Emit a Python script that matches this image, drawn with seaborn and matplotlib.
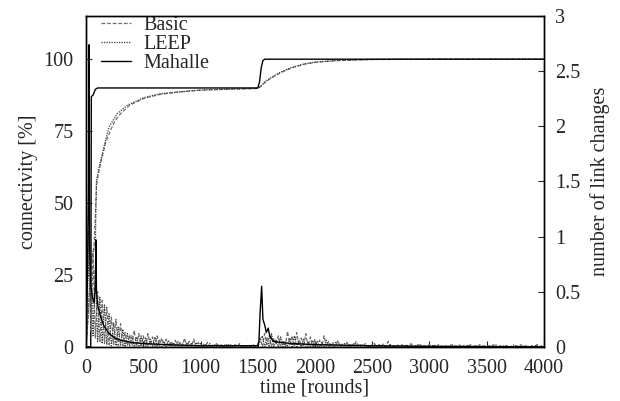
import numpy as np
import matplotlib
matplotlib.use("Agg")
import matplotlib.pyplot as plt
import seaborn as sns

# connectivity [%] (left axis)
basic_conn_rounds = [0, 20, 40, 55, 70, 90, 110, 140, 170, 210, 250, 300, 380, 500, 650,
                     800, 1000, 1200, 1500, 1530, 1560, 1600, 1650, 1700, 1800, 1900,
                     2000, 2200, 2500, 3000, 4000]
basic_conn = [0, 12, 27, 31, 36, 56, 61, 66, 71, 75, 78.5, 81, 84, 86.3, 87.8,
              88.6, 89.2, 89.5, 89.8, 90.6, 91.8, 93, 94.2, 95.3, 97, 98.2,
              98.9, 99.5, 99.9, 100, 100]
leep_conn_rounds = [0, 20, 40, 60, 80, 90, 110, 140, 170, 200, 270, 360, 500, 650,
                    1000, 1500, 1530, 1560, 1600, 1650, 1700, 1800, 1900, 2000,
                    2200, 2500, 3000, 4000]
leep_conn = [0, 14, 30, 33, 35, 58, 62, 67, 72, 76.5, 81, 84, 86.6, 88,
             89.3, 89.9, 90.8, 92, 93.2, 94.4, 95.5, 97.2, 98.3, 99,
             99.6, 99.9, 100, 100]
mahalle_conn_rounds = [0, 40, 45, 60, 80, 100, 1500, 1515, 1530, 1545, 1560, 4000]
mahalle_conn = [0, 0, 87, 87.5, 89.5, 90, 90, 92, 97, 99.5, 100, 100]

# number of link changes (right axis), sampled every 20 rounds
link_rounds = np.arange(0, 4001, 20)
basic_link = [
    0, 1.05, 0.15, 0.85, 0.08, 0.5, 0.05, 0.42, 0.03, 0.36, 0.02, 0.27, 0.02, 0.25, 0.01, 0.21, 0.01, 0.13, 0.01, 0.11, 0.01, 0.15, 0.0, 0.12, 0.01,
    0.10, 0.0, 0.12, 0.01, 0.09, 0.0, 0.10, 0.0, 0.08, 0.01, 0.07, 0.0, 0.05, 0.0, 0.06, 0.0, 0.04, 0.0, 0.08, 0.0, 0.05, 0.0, 0.07, 0.0, 0.04,
    0.0, 0.03, 0.0, 0.04, 0.0, 0.02, 0.0, 0.03, 0.0, 0.02, 0.0, 0.03, 0.0, 0.02, 0.0, 0.02, 0.0, 0.03, 0.0, 0.02, 0.0, 0.02, 0.0, 0.02, 0.0,
    0.02, 0.08, 0.0, 0.12, 0.02, 0.1, 0.0, 0.08, 0.02, 0.1, 0.0, 0.06, 0.0, 0.14, 0.02, 0.1, 0.0, 0.13, 0.01, 0.08, 0.0, 0.12, 0.0, 0.09, 0.0,
    0.07, 0.0, 0.06, 0.0, 0.1, 0.0, 0.05, 0.0, 0.04, 0.0, 0.06, 0.0, 0.03, 0.0, 0.04, 0.0, 0.03, 0.0, 0.05, 0.0, 0.02, 0.0, 0.03, 0.0, 0.02,
    0.0, 0.03, 0.0, 0.02, 0.0, 0.03, 0.0, 0.05, 0.0, 0.01, 0.0, 0.02, 0.0, 0.02, 0.0, 0.01, 0.0, 0.03, 0.0, 0.01, 0.0, 0.02, 0.0, 0.01, 0.0,
    0.02, 0.0, 0.01, 0.0, 0.02, 0.0, 0.0, 0.01, 0.0, 0.02, 0.0, 0.01, 0.0, 0.02, 0.0, 0.01, 0.0, 0.0, 0.02, 0.0, 0.01, 0.0, 0.02, 0.0, 0.01,
    0.0, 0.01, 0.0, 0.02, 0.0, 0.0, 0.01, 0.0, 0.02, 0.0, 0.01, 0.0, 0.0, 0.01, 0.0, 0.02, 0.0, 0.01, 0.0, 0.0, 0.01, 0.0, 0.02, 0.0, 0.01, 0.0,
]
leep_link = [
    0.3, 0.7, 0.95, 0.1, 0.7, 0.05, 0.45, 0.03, 0.38, 0.02, 0.3, 0.01, 0.22, 0.01, 0.18, 0.01, 0.16, 0.0, 0.12, 0.01, 0.1, 0.0, 0.09, 0.0, 0.1,
    0.0, 0.08, 0.0, 0.07, 0.0, 0.09, 0.0, 0.06, 0.0, 0.05, 0.0, 0.06, 0.0, 0.04, 0.0, 0.05, 0.0, 0.03, 0.0, 0.04, 0.0, 0.03, 0.0, 0.04, 0.0,
    0.03, 0.0, 0.02, 0.0, 0.03, 0.0, 0.02, 0.0, 0.02, 0.0, 0.01, 0.0, 0.02, 0.0, 0.01, 0.0, 0.02, 0.0, 0.01, 0.0, 0.01, 0.0, 0.01, 0.0, 0.01,
    0.0, 0.05, 0.1, 0.0, 0.08, 0.0, 0.12, 0.0, 0.06, 0.0, 0.09, 0.0, 0.05, 0.0, 0.08, 0.0, 0.1, 0.0, 0.06, 0.0, 0.07, 0.0, 0.05, 0.0, 0.06,
    0.0, 0.05, 0.0, 0.04, 0.0, 0.06, 0.0, 0.03, 0.0, 0.04, 0.0, 0.02, 0.0, 0.03, 0.0, 0.02, 0.0, 0.03, 0.0, 0.02, 0.0, 0.02, 0.0, 0.01, 0.0,
    0.02, 0.0, 0.01, 0.0, 0.02, 0.0, 0.01, 0.0, 0.02, 0.0, 0.01, 0.0, 0.0, 0.01, 0.0, 0.02, 0.0, 0.01, 0.0, 0.0, 0.02, 0.0, 0.01, 0.0, 0.0,
    0.01, 0.0, 0.02, 0.0, 0.0, 0.01, 0.0, 0.01, 0.0, 0.0, 0.02, 0.0, 0.01, 0.0, 0.0, 0.01, 0.0, 0.02, 0.0, 0.0, 0.01, 0.0, 0.0, 0.01, 0.0,
    0.0, 0.01, 0.0, 0.0, 0.02, 0.0, 0.01, 0.0, 0.0, 0.01, 0.0, 0.0, 0.02, 0.0, 0.01, 0.0, 0.0, 0.01, 0.0, 0.0, 0.01, 0.0, 0.02, 0.0, 0.0, 0.0,
]
mahalle_link_rounds = [0, 10, 20, 25, 30, 40, 55, 70, 80, 85, 90, 100, 120, 150, 200, 250,
                       300, 400, 500, 700, 1000, 1500, 1510, 1520, 1534, 1545, 1560, 1575,
                       1591, 1605, 1635, 1700, 1800, 2000, 2500, 3000, 4000]
mahalle_link = [0, 0.6, 1.4, 2.74, 0.9, 0.55, 0.45, 0.4, 0.55, 0.97, 0.5, 0.38, 0.3, 0.2, 0.12, 0.08,
                0.06, 0.04, 0.03, 0.02, 0.01, 0.01, 0.05, 0.3, 0.55, 0.25, 0.2, 0.13,
                0.17, 0.1, 0.05, 0.04, 0.03, 0.02, 0.01, 0.005, 0.0]

left_ticks = [0, 25, 50, 75, 100]
right_ticks = [0, 0.5, 1, 1.5, 2, 2.5, 3]
right_labels = ["0", "0.5", "1", "1.5", "2", "2.5", "3"]
x_ticks = list(range(0, 4001, 500))

sns.set_style("ticks")
plt.rcParams["font.family"] = ["Liberation Serif", "DejaVu Serif"]
plt.rcParams["xtick.direction"] = "in"
plt.rcParams["ytick.direction"] = "in"

fig = plt.figure(figsize=(6.2, 4.01), dpi=100)
ax = fig.add_axes([0.139, 0.135, 0.738, 0.825])
ax2 = ax.twinx()

styles = {
    "Basic": dict(color="#6e6e6e", linestyle=(0, (3, 1.5)), linewidth=0.9),
    "LEEP": dict(color="#3a3a3a", linestyle=(0, (1, 1)), linewidth=0.9),
    "Mahalle": dict(color="black", linestyle="-", linewidth=1.0),
}

sns.lineplot(x=basic_conn_rounds, y=basic_conn, ax=ax, label="Basic", **styles["Basic"])
sns.lineplot(x=leep_conn_rounds, y=leep_conn, ax=ax, label="LEEP", **styles["LEEP"])
sns.lineplot(x=mahalle_conn_rounds, y=mahalle_conn, ax=ax, label="Mahalle", **styles["Mahalle"])

sns.lineplot(x=link_rounds, y=basic_link, ax=ax2, legend=False, **styles["Basic"])
sns.lineplot(x=link_rounds, y=leep_link, ax=ax2, legend=False, **styles["LEEP"])
sns.lineplot(x=mahalle_link_rounds, y=mahalle_link, ax=ax2, legend=False, **styles["Mahalle"])

ax.set_xlim(0, 4000)
ax.set_ylim(0, 115)
ax2.set_ylim(0, 3)
ax.set_xticks(x_ticks)
ax.set_yticks(left_ticks)
ax2.set_yticks(right_ticks)
ax2.set_yticklabels(right_labels)

fs = 14.5
ax.tick_params(axis="x", labelsize=fs, length=4, width=0.8, pad=9)
ax.tick_params(axis="y", labelsize=fs, length=4, width=0.8, pad=9)
ax2.tick_params(labelsize=fs, length=4, width=0.8, pad=8)
ax.set_xlabel("time [rounds]", fontsize=fs, labelpad=0)
ax.set_ylabel("connectivity [%]", fontsize=fs, labelpad=4)
ax2.set_ylabel("number of link changes", fontsize=fs, labelpad=7)

for a in (ax, ax2):
    for s in a.spines.values():
        s.set_visible(True)
        s.set_linewidth(1.0)
        s.set_color("black")

ax.legend(loc="upper left", frameon=False, fontsize=fs, handlelength=1.5,
          labelspacing=0.0, borderaxespad=0.1, handletextpad=0.6,
          bbox_to_anchor=(0.01, 1.03))

fig.savefig("out.png", dpi=100)
